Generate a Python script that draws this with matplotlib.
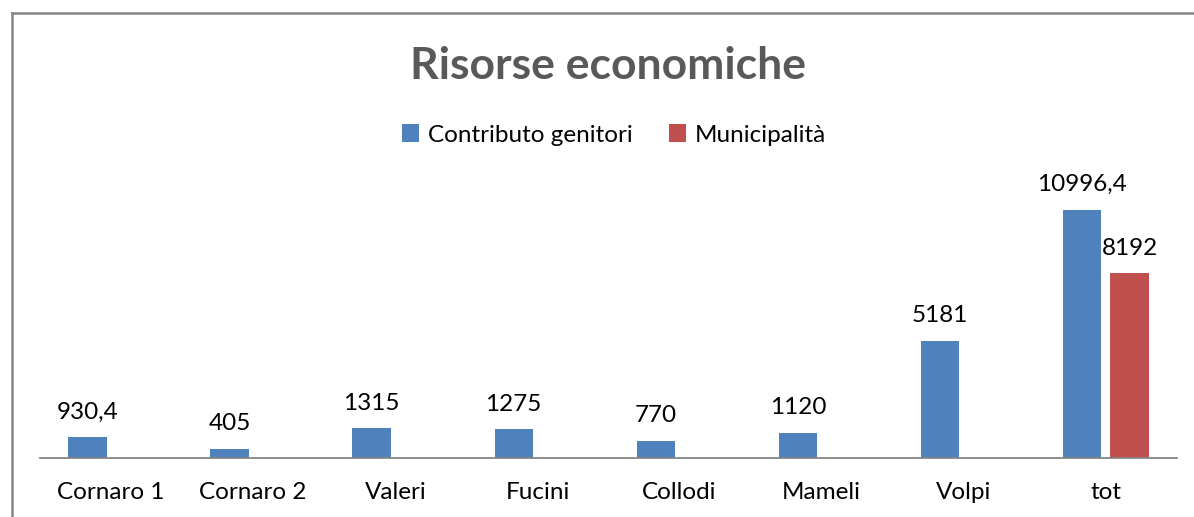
import numpy as np
import matplotlib
matplotlib.use("Agg")
import matplotlib.pyplot as plt
from matplotlib.lines import Line2D

plt.rcParams['font.family'] = ['Lato', 'DejaVu Sans']

categories = ["Cornaro 1", "Cornaro 2", "Valeri", "Fucini", "Collodi", "Mameli", "Volpi", "tot"]
genitori = [930.4, 405, 1315, 1275, 770, 1120, 5181, 10996.4]
municipalita = [np.nan, np.nan, np.nan, np.nan, np.nan, np.nan, np.nan, 8192]
series_names = ["Contributo genitori", "Municipalità"]

BLUE = "#4F81BD"
RED = "#C0504D"
GRAY = "#868686"
FS = 17.5

W, H = 1194, 517
fig = plt.figure(figsize=(W / 100, H / 100), dpi=100)
ax = fig.add_axes([40 / W, (H - 458) / H, (1177 - 40) / W, (458 - 170) / H])

x = np.arange(len(categories))
bw = 0.27
off = 0.167
ax.bar(x - off, genitori, bw, color=BLUE, label=series_names[0])
ax.bar(x + off, municipalita, bw, color=RED, label=series_names[1])

def fmt(v):
    s = ("%.1f" % v).rstrip("0").rstrip(".")
    return s.replace(".", ",")

for xs, vals in ((x - off, genitori), (x + off, municipalita)):
    for xi, v in zip(xs, vals):
        if np.isnan(v):
            continue
        ax.annotate(fmt(v), (xi, v), xytext=(0, 10.5), textcoords="offset points",
                    ha="center", va="bottom", fontsize=FS, color="black")

ax.set_xlim(-0.5, len(categories) - 0.5)
ax.set_ylim(0, 12760)
ax.set_xticks(x)
ax.set_xticklabels(categories, fontsize=FS)
ax.tick_params(axis="x", length=0, pad=17)
ax.set_yticks([])
for side in ("top", "right", "left"):
    ax.spines[side].set_visible(False)
ax.spines["bottom"].set_color(GRAY)
ax.spines["bottom"].set_linewidth(1.3)

fig.text(608 / W, 1 - 66 / H, "Risorse economiche", ha="center", va="center",
         fontsize=32, fontweight="bold", color="#595959")

fig.legend(loc="center", bbox_to_anchor=(614 / W, 1 - 135 / H), ncol=2, frameon=False,
           fontsize=FS, handlelength=0.7, handleheight=0.7, handletextpad=0.35,
           columnspacing=1.5)

# chart area border (left and top edges visible)
fig.add_artist(Line2D([11.5 / W, 11.5 / W], [0, 1 - 12.5 / H], transform=fig.transFigure,
                      color=GRAY, lw=1.8))
fig.add_artist(Line2D([11.5 / W, 1193 / W], [1 - 12.5 / H, 1 - 12.5 / H],
                      transform=fig.transFigure, color=GRAY, lw=1.8))

fig.savefig("out.png", dpi=100)
